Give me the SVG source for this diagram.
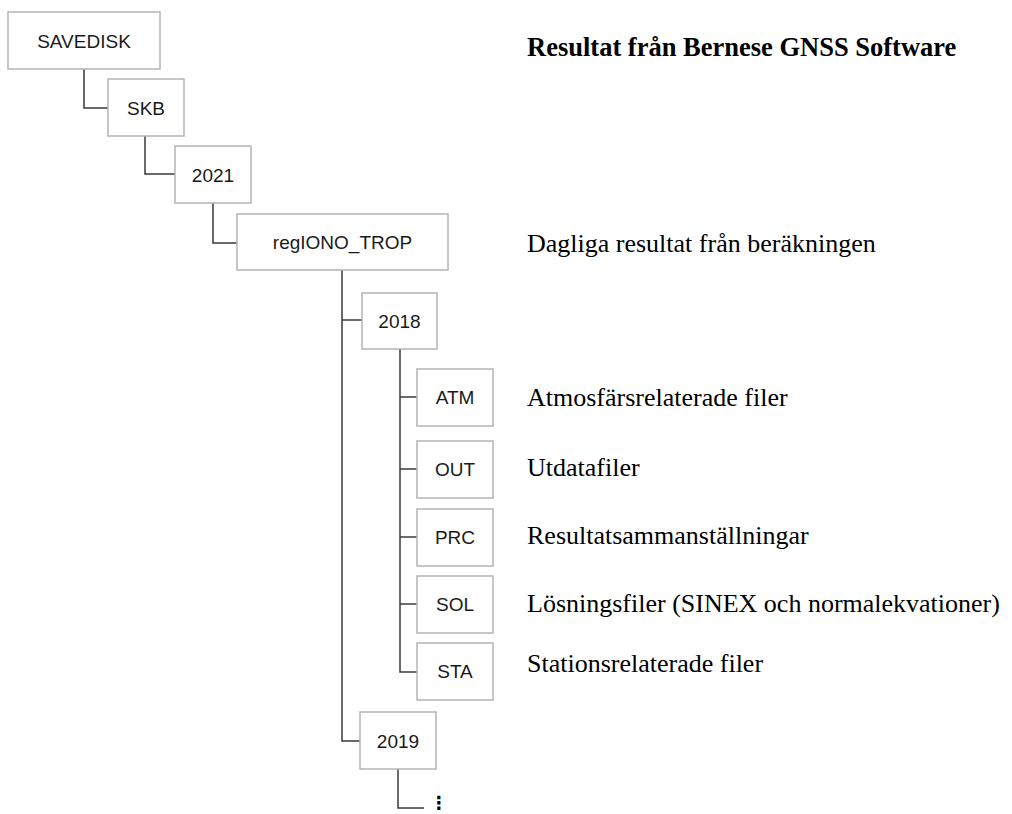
<svg xmlns="http://www.w3.org/2000/svg" width="1012" height="814" viewBox="0 0 1012 814">
<style>
.box{fill:#fff;stroke:#b4b4b4;stroke-width:1.5}
.bt{font-family:"Liberation Sans",Arial,sans-serif;font-size:19px;fill:#1a1a1a;text-anchor:middle;dominant-baseline:central}
.lbl{font-family:"Liberation Serif","Times New Roman",serif;font-size:26px;fill:#000;dominant-baseline:central}
.ttl{font-family:"Liberation Serif","Times New Roman",serif;font-size:26.5px;font-weight:bold;fill:#000}
.c{fill:none;stroke:#3a3a3a;stroke-width:1.5}
</style>
<rect width="1012" height="814" fill="#fff"/>
<g id="connectors">
<path class="c" d="M84,69 V108 H108"/>
<path class="c" d="M145,136 V174 H175"/>
<path class="c" d="M213,203 V243 H237"/>
<path class="c" d="M342,270 V741 H360"/>
<path class="c" d="M342,320 H362"/>
<path class="c" d="M400,349 V672 H417"/>
<path class="c" d="M400,397 H417"/>
<path class="c" d="M400,469 H417"/>
<path class="c" d="M400,537 H417"/>
<path class="c" d="M400,604 H417"/>
<path class="c" d="M398,769 V808 H424"/>
</g>
<g id="savedisk"><rect class="box" x="8" y="12" width="152" height="57"/><text class="bt" x="84" y="41">SAVEDISK</text></g>
<g id="skb"><rect class="box" x="108" y="79" width="76" height="57"/><text class="bt" x="146" y="108">SKB</text></g>
<g id="y2021"><rect class="box" x="175" y="146" width="76" height="57"/><text class="bt" x="213" y="175">2021</text></g>
<g id="regiono"><rect class="box" x="237" y="214" width="211" height="56"/><text class="bt" x="342.5" y="242">regIONO_TROP</text></g>
<g id="y2018"><rect class="box" x="362" y="293" width="75" height="56"/><text class="bt" x="399.5" y="321">2018</text></g>
<g id="atm"><rect class="box" x="417" y="369" width="76" height="57"/><text class="bt" x="455" y="397">ATM</text></g>
<g id="out"><rect class="box" x="417" y="441" width="76" height="57"/><text class="bt" x="455" y="469">OUT</text></g>
<g id="prc"><rect class="box" x="417" y="509" width="76" height="57"/><text class="bt" x="455" y="537">PRC</text></g>
<g id="sol"><rect class="box" x="417" y="576" width="76" height="57"/><text class="bt" x="455" y="604">SOL</text></g>
<g id="sta"><rect class="box" x="417" y="643" width="76" height="57"/><text class="bt" x="455" y="671">STA</text></g>
<g id="y2019"><rect class="box" x="360" y="712" width="76" height="57"/><text class="bt" x="398" y="741">2019</text></g>
<g id="more"><text x="439" y="802" font-family="'DejaVu Sans',sans-serif" font-size="18" font-weight="bold" fill="#000" text-anchor="middle" dominant-baseline="central">⋮</text></g>
<g id="labels">
<text class="ttl" x="527" y="56">Resultat från Bernese GNSS Software</text>
<text class="lbl" x="527" y="243">Dagliga resultat från beräkningen</text>
<text class="lbl" x="527" y="397">Atmosfärsrelaterade filer</text>
<text class="lbl" x="527" y="467">Utdatafiler</text>
<text class="lbl" x="527" y="535">Resultatsammanställningar</text>
<text class="lbl" x="527" y="603">Lösningsfiler (SINEX och normalekvationer)</text>
<text class="lbl" x="527" y="663">Stationsrelaterade filer</text>
</g>
</svg>
